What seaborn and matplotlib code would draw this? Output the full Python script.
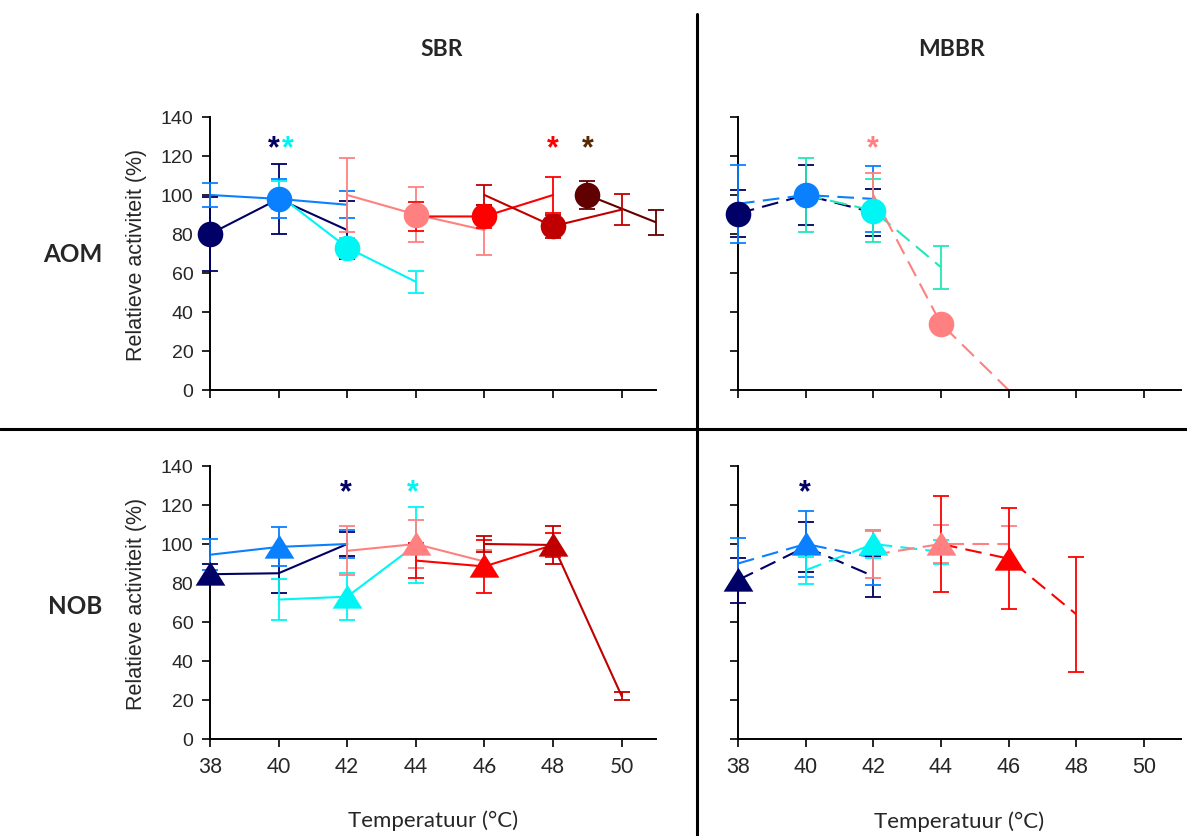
import numpy as np
import pandas as pd
import matplotlib
matplotlib.use("Agg")
import matplotlib.pyplot as plt
import seaborn as sns

# ---------------- data ----------------
temps_ticks = [38, 40, 42, 44, 46, 48, 50]
y_ticks = [0, 20, 40, 60, 80, 100, 120, 140]

colors = {
    "navy": "#000066", "blue": "#0A80FF", "cyan": "#00F5F5", "turq": "#22E8B8",
    "salmon": "#FF8080", "red": "#FF0000", "darkred": "#C00000", "maroon": "#600000",
}

# SBR - AOM
sbr_aom_x = {"navy": [38, 40, 42], "blue": [38, 40, 42], "cyan": [40, 42, 44],
             "salmon": [42, 44, 46], "red": [44, 46, 48], "darkred": [46, 48, 50],
             "maroon": [49, 51]}
sbr_aom_y = {"navy": [80, 98, 82], "blue": [100, 98, 95], "cyan": [100, 73, 55.5],
             "salmon": [100, 90, 82], "red": [89, 89, 100], "darkred": [100, 84, 92.5],
             "maroon": [100, 86]}
sbr_aom_err = {"navy": [19, 18, 15], "blue": [6, 10, 7], "cyan": [7, 5, 5.5],
               "salmon": [19, 14, 13], "red": [7.5, 6, 9], "darkred": [5, 6, 8],
               "maroon": [7, 6.5]}
sbr_aom_peak = {"navy": 38, "blue": 40, "cyan": 42, "salmon": 44, "red": 46,
                "darkred": 48, "maroon": 49}
sbr_aom_stars = [(39.87, "navy"), (40.27, "cyan"), (48.0, "red"), (49.0, "#5A2800")]

# MBBR - AOM
mbbr_aom_x = {"navy": [38, 40, 42], "blue": [38, 40, 42], "turq": [40, 42, 44],
              "salmon": [42, 44, 46]}
mbbr_aom_y = {"navy": [90.5, 100, 91], "blue": [95.5, 100, 98], "turq": [100, 92, 63],
              "salmon": [100, 34, 0]}
mbbr_aom_err = {"navy": [12, 15.5, 12], "blue": [20, 3, 17], "turq": [19, 16, 11],
                "salmon": [11.5, 3, None]}
mbbr_aom_peak = {"navy": 38, "blue": 40, "turq": 42, "salmon": 44}
mbbr_aom_stars = [(42.0, "salmon")]

# SBR - NOB
sbr_nob_x = {"navy": [38, 40, 42], "blue": [38, 40, 42], "cyan": [40, 42, 44],
             "salmon": [42, 44, 46], "red": [44, 46, 48], "darkred": [46, 48, 50]}
sbr_nob_y = {"navy": [84.5, 85, 100], "blue": [94.5, 98.5, 100], "cyan": [71.5, 73, 99.5],
             "salmon": [96.5, 100, 91], "red": [91.5, 88.5, 99.5], "darkred": [100, 99.5, 22]}
sbr_nob_err = {"navy": [5, 10, 6], "blue": [8, 10, 7], "cyan": [10.5, 12, 19.5],
               "salmon": [12.5, 12.5, 6], "red": [9, 13.5, 6], "darkred": [4, 9.5, 2]}
sbr_nob_peak = {"navy": 38, "blue": 40, "cyan": 42, "salmon": 44, "red": 46, "darkred": 48}
sbr_nob_stars = [(41.95, "navy"), (43.9, "cyan")]

# MBBR - NOB
mbbr_nob_x = {"navy": [38, 40, 42], "blue": [38, 40, 42], "cyan": [40, 42, 44],
              "salmon": [42, 44, 46], "red": [44, 46, 48]}
mbbr_nob_y = {"navy": [81.5, 98.5, 83.5], "blue": [90, 100, 93], "cyan": [86.5, 100, 96],
              "salmon": [94.5, 100, 100], "red": [100, 92.5, 64]}
mbbr_nob_err = {"navy": [11.5, 13, 10.5], "blue": [13, 17, 14], "cyan": [7, 7, 6],
                "salmon": [12, 9.5, 9], "red": [24.5, 26, 29.5]}
mbbr_nob_peak = {"navy": 38, "blue": 40, "cyan": 42, "salmon": 44, "red": 46}
mbbr_nob_stars = [(39.97, "navy")]

# ---------------- style ----------------
sns.set_style("ticks")
plt.rcParams["font.family"] = ["Liberation Sans", "DejaVu Sans"]
CAL = ["Lato", "DejaVu Sans"]

W, H = 1187, 837
fig = plt.figure(figsize=(W / 100, H / 100), dpi=100)


def px_axes(x0, y_top, x1, y_bot):
    return fig.add_axes([x0 / W, 1 - y_bot / H, (x1 - x0) / W, (y_bot - y_top) / H])


TRI = [(-1, -0.75), (1, -0.75), (0, 0.85)]


def draw_panel(ax, xs, ys, errs, peaks, stars, dashed, marker, star_y, xmax,
               marker_colors=None):
    ls = (0, (8, 4)) if dashed else "-"
    for name in xs:
        c = colors[name]
        df = pd.DataFrame({"T": xs[name], "A": ys[name]})
        sns.lineplot(data=df, x="T", y="A", ax=ax, color=c, lw=1.5, linestyle=ls,
                     estimator=None, sort=False, legend=False, zorder=2)
        ex = [x for x, e in zip(xs[name], errs[name]) if e is not None]
        ey = [y for y, e in zip(ys[name], errs[name]) if e is not None]
        ee = [e for e in errs[name] if e is not None]
        ax.errorbar(ex, ey, yerr=ee, fmt="none", ecolor=c, elinewidth=1.3,
                    capsize=5.5, capthick=1.3, zorder=3, clip_on=False)
    for name in xs:
        c = (marker_colors or {}).get(name, colors[name])
        px = peaks[name]
        py = ys[name][xs[name].index(px)]
        pdf = pd.DataFrame({"T": [px], "A": [py]})
        if marker == "o":
            sns.scatterplot(data=pdf, x="T", y="A", ax=ax, color=c, marker="o",
                            s=340, edgecolor=c, linewidth=0, zorder=5,
                            legend=False, clip_on=False)
        else:
            sns.scatterplot(data=pdf, x="T", y="A", ax=ax, color=c, marker=TRI,
                            s=460, edgecolor=c, linewidth=0, zorder=5,
                            legend=False, clip_on=False)
    for sx, sc in stars:
        col = colors.get(sc, sc)
        ax.text(sx, star_y, "*", color=col, fontsize=22, fontweight="bold",
                ha="center", va="center", zorder=6)
    ax.set_xlim(38, xmax)
    ax.set_ylim(0, 140)
    ax.set_xticks(temps_ticks)
    ax.set_yticks(y_ticks)
    ax.set_xlabel("")
    ax.set_ylabel("")
    for s in ["top", "right"]:
        ax.spines[s].set_visible(False)
    for s in ["left", "bottom"]:
        ax.spines[s].set_color("black")
        ax.spines[s].set_linewidth(1.4)
    ax.tick_params(axis="both", direction="out", length=6, width=1.2,
                   color="black", labelsize=14, pad=6, bottom=True, left=True)


ax_tl = px_axes(210, 118, 656, 391)
ax_tr = px_axes(738, 118, 1181, 391)
ax_bl = px_axes(210, 467, 656, 740)
ax_br = px_axes(738, 467, 1181, 740)

draw_panel(ax_tl, sbr_aom_x, sbr_aom_y, sbr_aom_err, sbr_aom_peak, sbr_aom_stars,
           False, "o", 124, 51.0)
draw_panel(ax_tr, mbbr_aom_x, mbbr_aom_y, mbbr_aom_err, mbbr_aom_peak, mbbr_aom_stars,
           True, "o", 124, 51.1, marker_colors={"turq": colors["cyan"]})
draw_panel(ax_bl, sbr_nob_x, sbr_nob_y, sbr_nob_err, sbr_nob_peak, sbr_nob_stars,
           False, "^", 126.5, 51.0)
draw_panel(ax_br, mbbr_nob_x, mbbr_nob_y, mbbr_nob_err, mbbr_nob_peak, mbbr_nob_stars,
           True, "^", 126.5, 51.1)

# tick label visibility
ax_tl.tick_params(axis="x", labelbottom=False)
ax_tr.tick_params(axis="x", labelbottom=False)
ax_tr.tick_params(axis="y", labelleft=False)
ax_br.tick_params(axis="y", labelleft=False)
for lab in ax_bl.get_xticklabels():
    lab.set_family(CAL)
    lab.set_fontsize(15)
ax_br.tick_params(axis="x", labelsize=15.5)

for ax in (ax_tl, ax_bl):
    ax.set_ylabel("Relatieve activiteit (%)", fontsize=15.5, labelpad=10)
for ax in (ax_bl, ax_br):
    ax.set_xlabel("Temperatuur (°C)", fontsize=16, family=CAL, labelpad=24)

# column / row headers
fig.text(442 / W, 1 - 50 / H, "SBR", fontsize=16.5, fontweight="bold", family=CAL,
         ha="center", va="center")
fig.text(951 / W, 1 - 50 / H, "MBBR", fontsize=16.5, fontweight="bold", family=CAL,
         ha="center", va="center")
fig.text(73 / W, 1 - 255 / H, "AOM", fontsize=17.5, fontweight="bold", family=CAL,
         ha="center", va="center")
fig.text(75 / W, 1 - 607 / H, "NOB", fontsize=17.5, fontweight="bold", family=CAL,
         ha="center", va="center")

# divider lines
fig.add_artist(plt.Line2D([697 / W, 697 / W], [0, 1 - 15 / H], color="black", lw=2.2))
fig.add_artist(plt.Line2D([0, 1], [1 - 430 / H, 1 - 430 / H], color="black", lw=2.2))

fig.savefig("out.png", dpi=100, facecolor="white")
